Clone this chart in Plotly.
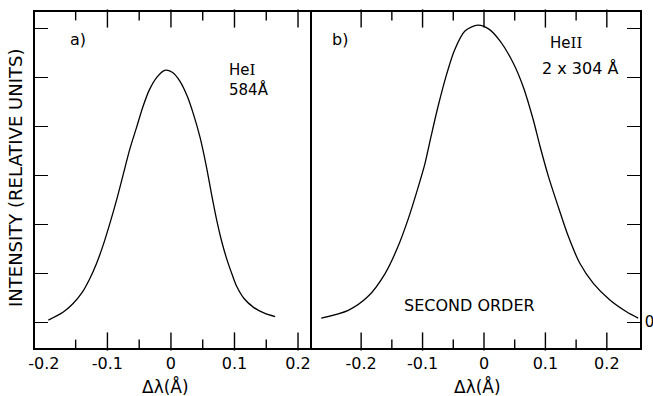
import plotly.graph_objects as go

# Panel a) He I 584 Å
x_a = [-0.193, -0.170, -0.154, -0.140, -0.128, -0.117, -0.107, -0.096, -0.085, -0.075, -0.065,
       -0.054, -0.044, -0.034, -0.022, -0.010, 0.002, 0.014, 0.026, 0.036, 0.046, 0.056, 0.064,
       0.072, 0.080, 0.088, 0.096, 0.103, 0.115, 0.130, 0.147, 0.164]
y_a = [0.04, 0.20, 0.38, 0.60, 0.88, 1.20, 1.56, 2.02, 2.52, 3.02, 3.52,
       3.98, 4.40, 4.74, 5.00, 5.14, 5.10, 4.92, 4.60, 4.22, 3.76, 3.16, 2.60,
       2.08, 1.64, 1.28, 0.98, 0.74, 0.48, 0.30, 0.18, 0.11]

# Panel b) He II 2 x 304 Å (second order)
x_b = [-0.265, -0.221, -0.189, -0.161, -0.140, -0.124, -0.107, -0.096, -0.086, -0.075, -0.061,
       -0.048, -0.031, -0.010, 0.008, 0.026, 0.048, 0.064, 0.080, 0.091, 0.105, 0.121, 0.137,
       0.156, 0.178, 0.205, 0.232, 0.251]
y_b = [0.08, 0.24, 0.52, 0.99, 1.54, 2.08, 2.76, 3.24, 3.80, 4.39, 5.05,
       5.55, 5.94, 6.06, 5.98, 5.74, 5.28, 4.80, 4.14, 3.60, 2.97, 2.35, 1.76,
       1.20, 0.79, 0.45, 0.21, 0.08]

x_tickvals = [-0.2, -0.1, 0, 0.1, 0.2]
x_ticktext = ["-0.2", "-0.1", "0", "0.1", "0.2"]
x_major_marks_a = [-0.1, 0, 0.1, 0.2]
x_major_marks_b = [-0.2, -0.1, 0, 0.1, 0.2]
x_minor_marks = [-0.15, -0.05, 0.05, 0.15]
y_tickvals = [0, 1, 2, 3, 4, 5, 6]
y_ticktext_b = ["0", "", "", "", "", "", ""]

FONT = "DejaVu Sans"
Y_RANGE = [-0.53, 6.33]
PLOT_H = 336  # plot-area height in px
units_per_px = (Y_RANGE[1] - Y_RANGE[0]) / PLOT_H

fig = go.Figure()
fig.add_trace(go.Scatter(x=x_a, y=y_a, mode="lines", line=dict(color="black", width=1.3, shape="spline", smoothing=0.8),
                         xaxis="x", yaxis="y", showlegend=False, hoverinfo="skip"))
fig.add_trace(go.Scatter(x=x_b, y=y_b, mode="lines", line=dict(color="black", width=1.3, shape="spline", smoothing=0.8),
                         xaxis="x2", yaxis="y2", showlegend=False, hoverinfo="skip"))

# inside tick marks on the bottom and top edges, drawn as vertical line markers
for xa, ya, majors in (("x", "y", x_major_marks_a), ("x2", "y2", x_major_marks_b)):
    for vals, ln in ((majors, 13), (x_minor_marks, 7)):
        half = ln / 2 * units_per_px
        xs, ys = [], []
        for v in vals:
            xs += [v, v]
            ys += [Y_RANGE[0] + half, Y_RANGE[1] - half]
        fig.add_trace(go.Scatter(x=xs, y=ys, mode="markers",
                                 marker=dict(symbol="line-ns", size=ln, color="black",
                                             line=dict(color="black", width=1.4)),
                                 cliponaxis=False, xaxis=xa, yaxis=ya,
                                 showlegend=False, hoverinfo="skip"))

dom_split = 277 / 605
xcommon = dict(tickmode="array", tickvals=x_tickvals, ticktext=x_ticktext, ticks="",
               showline=True, linecolor="black", linewidth=1.5, mirror=True,
               showgrid=False, zeroline=False, automargin=False,
               tickfont=dict(family=FONT, size=16, color="black"))
ycommon = dict(domain=[0, 1], range=Y_RANGE, tickmode="array", tickvals=y_tickvals, ticks="inside",
               ticklen=13, tickwidth=1.2, tickcolor="black", showline=True, linecolor="black",
               linewidth=1.5, showgrid=False, zeroline=False, automargin=False)

fig.update_layout(
    width=653, height=396,
    margin=dict(l=35, r=13, t=12, b=48, autoexpand=False),
    paper_bgcolor="white", plot_bgcolor="white",
    xaxis=dict(domain=[0, dom_split], range=[-0.214, 0.222], anchor="y", **xcommon),
    xaxis2=dict(domain=[dom_split, 1], range=[-0.280, 0.254], anchor="y2", **xcommon),
    yaxis=dict(anchor="x", showticklabels=False, mirror=False, **ycommon),
    yaxis2=dict(anchor="x2", side="right", ticktext=y_ticktext_b, mirror=True, ticklabelstandoff=0,
                tickfont=dict(family=FONT, size=15, color="black"), **ycommon),
    font=dict(family=FONT, size=16, color="black"),
    showlegend=False,
)

ann = dict(showarrow=False)
f16 = dict(family=FONT, size=16, color="black")
f15 = dict(family=FONT, size=15, color="black")
fig.add_annotation(x=-0.146, y=5.76, xref="x", yref="y", text="a)", xanchor="center", yanchor="middle", font=f16, **ann)
fig.add_annotation(x=0.088, y=5.14, xref="x", yref="y",
                   text="He<span style='font-family:DejaVu Serif'>I</span>",
                   xanchor="left", yanchor="middle", font=f15, **ann)
fig.add_annotation(x=0.088, y=4.74, xref="x", yref="y", text="584Å", xanchor="left", yanchor="middle", font=f15, **ann)
fig.add_annotation(x=-0.234, y=5.76, xref="x2", yref="y2", text="b)", xanchor="center", yanchor="middle", font=f16, **ann)
fig.add_annotation(x=0.104, y=5.69, xref="x2", yref="y2",
                   text="He<span style='font-family:DejaVu Serif'>II</span>",
                   xanchor="left", yanchor="middle", font=f15, **ann)
fig.add_annotation(x=0.091, y=5.18, xref="x2", yref="y2", text="2 x 304 Å", xanchor="left", yanchor="middle", font=f16, **ann)
fig.add_annotation(x=-0.023, y=0.33, xref="x2", yref="y2", text="SECOND ORDER", xanchor="center", yanchor="middle", font=f16, **ann)
fig.add_annotation(x=(165 - 35) / 605, y=-0.116, xref="paper", yref="paper", text="Δλ(Å)",
                   xanchor="center", yanchor="middle", font=dict(family=FONT, size=17, color="black"), **ann)
fig.add_annotation(x=(477 - 35) / 605, y=-0.116, xref="paper", yref="paper", text="Δλ(Å)",
                   xanchor="center", yanchor="middle", font=dict(family=FONT, size=17, color="black"), **ann)
fig.add_annotation(x=(15 - 35) / 605, y=(348 - 178) / 336, xref="paper", yref="paper",
                   text="INTENSITY (RELATIVE UNITS)", textangle=-90, xanchor="center", yanchor="middle",
                   font=dict(family=FONT, size=18, color="black"), **ann)

fig.write_html("out.html")
